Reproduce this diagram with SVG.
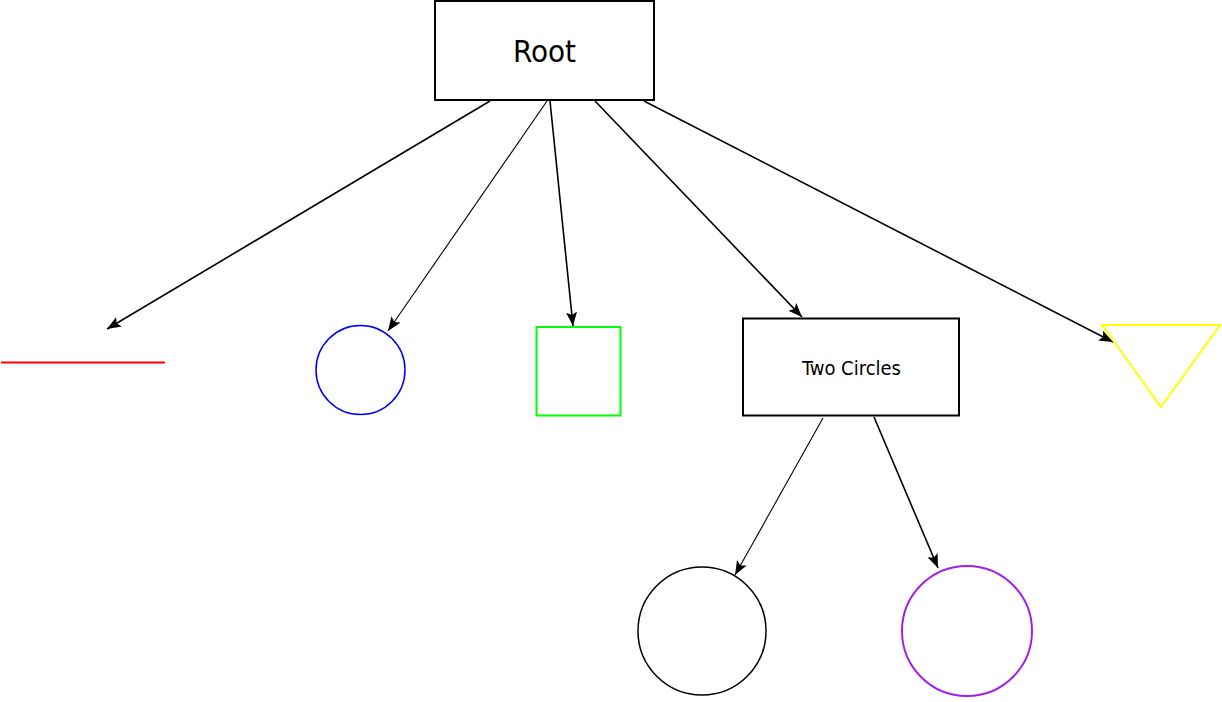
<svg xmlns="http://www.w3.org/2000/svg" width="1222" height="702" viewBox="0 0 1222 702">
<style>
.box{fill:#fff;stroke:#000;stroke-width:2}
.lbl{font-family:"DejaVu Sans Condensed","DejaVu Sans",sans-serif;font-stretch:condensed;fill:#000;text-anchor:middle}
.edge{stroke:#000;stroke-width:1.6;fill:none;marker-end:url(#ah)}
.thin{stroke-width:1.1}
</style>
<defs>
<marker id="ah" markerUnits="userSpaceOnUse" markerWidth="16" markerHeight="12" refX="14" refY="5.5" orient="auto">
<path d="M0,0 L14,5.5 L0,11 L3,5.5 z" fill="#000"/>
</marker>
</defs>
<rect width="1222" height="702" fill="#fff"/>
<g id="connectors">
<line class="edge" x1="490" y1="101" x2="107" y2="329"/>
<line class="edge thin" x1="547" y1="101" x2="388" y2="331"/>
<line class="edge" x1="550" y1="101" x2="573" y2="326"/>
<line class="edge" x1="595" y1="101" x2="802" y2="317"/>
<line class="edge" x1="644" y1="101" x2="1113" y2="342"/>
<line class="edge thin" x1="823" y1="418" x2="735" y2="575"/>
<line class="edge" x1="874" y1="417" x2="938" y2="568"/>
</g>
<g id="root">
<rect class="box" x="435" y="1" width="219" height="99"/>
<text class="lbl" x="544.5" y="62" font-size="31">Root</text>
</g>
<g id="red-line">
<line x1="1" y1="362.5" x2="165" y2="362.5" stroke="#ff0000" stroke-width="2"/>
</g>
<g id="blue-circle">
<circle cx="360.5" cy="370" r="44.5" fill="none" stroke="#0000ff" stroke-width="1.5"/>
</g>
<g id="green-square">
<rect x="536.5" y="327" width="84" height="88.5" fill="none" stroke="#00ff00" stroke-width="2"/>
</g>
<g id="two-circles">
<rect class="box" x="743" y="318.5" width="216" height="97"/>
<text class="lbl" x="851.5" y="375" font-size="20">Two Circles</text>
</g>
<g id="yellow-triangle">
<polygon points="1102,325 1220,325 1161,407" fill="none" stroke="#ffff00" stroke-width="2"/>
</g>
<g id="black-circle">
<circle cx="702" cy="631" r="64" fill="none" stroke="#000" stroke-width="1.5"/>
</g>
<g id="purple-circle">
<circle cx="967" cy="631" r="65" fill="none" stroke="#a020f0" stroke-width="2"/>
</g>
</svg>
